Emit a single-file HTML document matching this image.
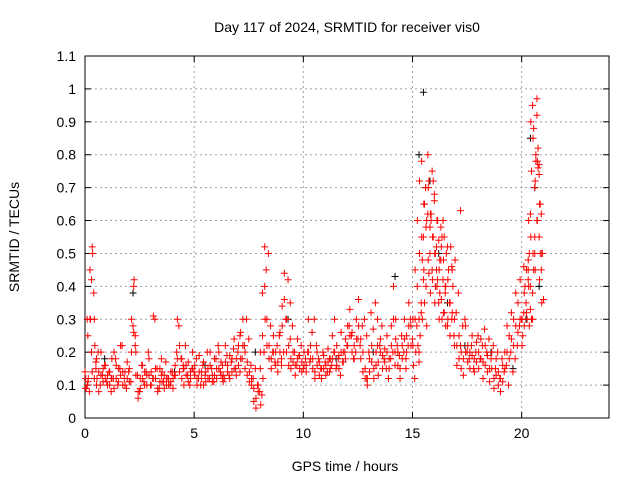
<!DOCTYPE html>
<html><head><meta charset="utf-8"><style>
html,body{margin:0;padding:0;background:#fff;}
svg{display:block;font-family:"Liberation Sans",sans-serif;}
</style></head><body>
<svg id="chart" width="640" height="480" viewBox="0 0 640 480">
<rect width="640" height="480" fill="#fff"/>
<text x="347" y="32" font-size="14" text-anchor="middle">Day 117 of 2024, SRMTID for receiver vis0</text>
<text x="19" y="237" font-size="14" text-anchor="middle" transform="rotate(-90 19 237)">SRMTID / TECUs</text>
<text x="345" y="471" font-size="14" text-anchor="middle">GPS time / hours</text>
<g id="grid"></g><g id="axes"></g><g id="marks"></g>
</svg>
<script>
const xTicks=[0,5,10,15,20];
const yTicks=[0,0.1,0.2,0.3,0.4,0.5,0.6,0.7,0.8,0.9,1,1.1];
const yTickLabels=["0","0.1","0.2","0.3","0.4","0.5","0.6","0.7","0.8","0.9","1","1.1"];
const redHours=[0.0,0.05,0.1,0.15,0.2,0.25,0.3,0.35,0.4,0.45,0.5,0.55,0.6,0.7,0.8,0.9,1.0,1.1,1.2,1.3,1.4,1.5,1.6,1.7,1.8,1.9,2.0,2.1,2.2,2.25,2.3,2.4,2.5,2.6,2.7,2.8,2.9,3.0,3.1,3.2,3.3,3.4,3.5,3.6,3.7,3.8,3.9,4.0,4.1,4.2,4.3,4.4,4.5,4.6,4.7,4.8,4.9,5.0,5.1,5.2,5.3,5.4,5.5,5.6,5.7,5.8,5.9,6.0,6.1,6.2,6.3,6.4,6.5,6.6,6.7,6.8,6.9,7.0,7.1,7.2,7.3,7.4,7.5,7.6,7.7,7.8,7.9,8.0,8.05,8.1,8.15,8.2,8.25,8.3,8.4,8.5,8.6,8.7,8.8,8.9,9.0,9.1,9.2,9.3,9.4,9.5,9.6,9.7,9.8,9.9,10.0,10.1,10.2,10.3,10.4,10.5,10.6,10.7,10.8,10.9,11.0,11.1,11.2,11.3,11.4,11.5,11.6,11.7,11.8,11.9,12.0,12.1,12.2,12.3,12.4,12.5,12.6,12.7,12.8,12.9,13.0,13.1,13.2,13.3,13.4,13.5,13.6,13.7,13.8,13.9,14.0,14.1,14.2,14.3,14.4,14.5,14.6,14.7,14.8,14.9,15.0,15.05,15.1,15.15,15.2,15.25,15.3,15.35,15.4,15.45,15.5,15.55,15.6,15.65,15.7,15.75,15.8,15.85,15.9,15.95,16.0,16.05,16.1,16.15,16.2,16.25,16.3,16.35,16.4,16.45,16.5,16.55,16.6,16.65,16.7,16.75,16.8,16.85,16.9,16.95,17.0,17.1,17.2,17.3,17.4,17.5,17.6,17.7,17.8,17.9,18.0,18.1,18.2,18.3,18.4,18.5,18.6,18.7,18.8,18.9,19.0,19.1,19.2,19.3,19.4,19.5,19.6,19.7,19.8,19.9,20.0,20.05,20.1,20.15,20.2,20.25,20.3,20.35,20.4,20.45,20.5,20.55,20.6,20.65,20.7,20.75,20.8,20.85,20.9,20.95,21.0,
0.1,0.3,0.5,1.2,2.3,3.5,4.5,6.3,7.1,8.2,9.0,9.4,11.2,12.9,13.4,14.2,14.7,15.3,15.3,15.4,15.5,15.6,15.7,15.8,15.9,16.0,16.1,16.2,16.3,16.4,16.5,16.6,16.7,16.8,15.45,15.55,15.65,15.75,15.85,15.95,16.05,16.15,16.25,16.35,16.45,20.3,20.35,20.4,20.45,20.5,20.55,20.6,20.65,20.7,20.75,20.8,20.85,20.9,20.3,20.4,20.5,20.6,20.7,20.8,17.2,20.1];
const redValues=[0.14,0.09,0.1,0.12,0.08,0.3,0.42,0.5,0.38,0.22,0.15,0.12,0.2,0.1,0.13,0.16,0.11,0.14,0.08,0.12,0.18,0.1,0.15,0.22,0.12,0.09,0.14,0.11,0.28,0.42,0.25,0.13,0.08,0.16,0.11,0.14,0.2,0.1,0.12,0.3,0.15,0.09,0.13,0.11,0.17,0.12,0.1,0.14,0.13,0.2,0.28,0.18,0.16,0.22,0.13,0.1,0.15,0.14,0.18,0.12,0.1,0.16,0.13,0.2,0.12,0.15,0.11,0.18,0.22,0.14,0.16,0.12,0.19,0.13,0.17,0.21,0.15,0.2,0.25,0.18,0.22,0.3,0.24,0.16,0.12,0.15,0.1,0.08,0.04,0.07,0.12,0.2,0.3,0.45,0.5,0.28,0.2,0.17,0.22,0.25,0.18,0.2,0.3,0.42,0.35,0.28,0.2,0.16,0.19,0.22,0.15,0.18,0.2,0.17,0.26,0.3,0.22,0.18,0.15,0.2,0.17,0.14,0.18,0.16,0.2,0.15,0.18,0.13,0.17,0.2,0.22,0.28,0.25,0.18,0.2,0.24,0.22,0.28,0.3,0.25,0.2,0.32,0.27,0.35,0.3,0.22,0.28,0.18,0.15,0.12,0.18,0.2,0.16,0.22,0.19,0.25,0.2,0.18,0.22,0.3,0.24,0.16,0.12,0.2,0.28,0.22,0.3,0.25,0.35,0.48,0.55,0.65,0.7,0.6,0.8,0.72,0.5,0.62,0.45,0.55,0.68,0.4,0.52,0.6,0.35,0.48,0.58,0.3,0.42,0.55,0.38,0.5,0.28,0.45,0.35,0.52,0.3,0.4,0.25,0.48,0.32,0.38,0.22,0.28,0.3,0.2,0.18,0.22,0.15,0.2,0.25,0.18,0.22,0.27,0.2,0.24,0.18,0.22,0.15,0.2,0.12,0.18,0.14,0.16,0.1,0.2,0.14,0.18,0.22,0.28,0.3,0.25,0.32,0.4,0.35,0.3,0.42,0.5,0.62,0.75,0.95,0.88,0.7,0.78,0.6,0.76,0.55,0.65,0.45,0.5,0.36,0.3,0.2,0.17,
0.12,0.22,0.18,0.15,0.12,0.14,0.2,0.16,0.24,0.14,0.12,0.22,0.2,0.15,0.2,0.17,0.32,0.42,0.7,0.62,0.58,0.75,0.66,0.45,0.54,0.48,0.6,0.4,0.52,0.35,0.46,0.3,0.35,0.28,0.44,0.6,0.72,0.5,0.42,0.38,0.55,0.32,0.45,0.28,0.33,0.3,0.38,0.45,0.55,0.8,0.92,0.82,0.74,0.5,0.62,0.48,0.4,0.3,0.5,0.97,0.77,0.63,0.46,0.3,0.88,0.26];
const denseHours=[0.03,0.13,0.23,0.33,0.43,0.53,0.63,0.73,0.83,0.93,1.03,1.13,1.23,1.33,1.43,1.53,1.63,1.73,1.83,1.93,2.03,2.13,2.23,2.33,2.43,2.53,2.63,2.73,2.83,2.93,3.03,3.13,3.23,3.33,3.43,3.53,3.63,3.73,3.83,3.93,4.03,4.13,4.23,4.33,4.43,4.53,4.63,4.73,4.83,4.93,5.03,5.13,5.23,5.33,5.43,5.53,5.63,5.73,5.83,5.93,6.03,6.13,6.23,6.33,6.43,6.53,6.63,6.73,6.83,6.93,7.03,7.13,7.23,7.33,7.43,7.53,7.63,7.73,7.83,7.93,8.03,8.13,8.23,8.33,8.43,8.53,8.63,8.73,8.83,8.93,9.03,9.13,9.23,9.33,9.43,9.53,9.63,9.73,9.83,9.93,10.03,10.13,10.23,10.33,10.43,10.53,10.63,10.73,10.83,10.93,11.03,11.13,11.23,11.33,11.43,11.53,11.63,11.73,11.83,11.93,12.03,12.13,12.23,12.33,12.43,12.53,12.63,12.73,12.83,12.93,13.03,13.13,13.23,13.33,13.43,13.53,13.63,13.73,13.83,13.93,14.03,14.13,14.23,14.33,14.43,14.53,14.63,14.73,14.83,14.93,17.03,17.13,17.23,17.33,17.43,17.53,17.63,17.73,17.83,17.93,18.03,18.13,18.23,18.33,18.43,18.53,18.63,18.73,18.83,18.93,19.03,19.13,19.23,19.33,19.43,19.53,19.63,19.73,19.83,19.93];
const denseValuesA=[0.12,0.25,0.45,0.52,0.3,0.18,0.14,0.2,0.11,0.16,0.13,0.1,0.18,0.2,0.12,0.15,0.22,0.14,0.1,0.17,0.15,0.3,0.4,0.2,0.08,0.12,0.16,0.1,0.13,0.18,0.14,0.31,0.12,0.09,0.15,0.11,0.13,0.1,0.12,0.14,0.12,0.16,0.3,0.22,0.18,0.15,0.13,0.17,0.14,0.2,0.16,0.12,0.19,0.14,0.17,0.11,0.15,0.2,0.13,0.18,0.15,0.2,0.17,0.13,0.22,0.16,0.19,0.14,0.24,0.18,0.22,0.26,0.3,0.2,0.17,0.14,0.12,0.09,0.06,0.1,0.2,0.38,0.52,0.3,0.22,0.18,0.25,0.2,0.17,0.26,0.34,0.44,0.3,0.22,0.18,0.2,0.16,0.24,0.19,0.17,0.2,0.16,0.3,0.22,0.18,0.14,0.2,0.17,0.15,0.19,0.16,0.21,0.18,0.25,0.3,0.22,0.19,0.26,0.2,0.24,0.28,0.33,0.26,0.22,0.3,0.36,0.24,0.2,0.15,0.12,0.18,0.22,0.15,0.2,0.17,0.24,0.19,0.21,0.25,0.18,0.28,0.4,0.3,0.2,0.15,0.22,0.3,0.25,0.35,0.28,0.22,0.25,0.2,0.18,0.28,0.22,0.2,0.25,0.18,0.23,0.2,0.24,0.17,0.22,0.19,0.15,0.2,0.12,0.18,0.14,0.12,0.16,0.2,0.28,0.25,0.32,0.3,0.38,0.35,0.42];
const denseValuesB=[0.09,0.11,0.3,0.14,0.12,0.1,0.08,0.13,0.15,0.12,0.1,0.14,0.12,0.09,0.16,0.11,0.13,0.1,0.14,0.12,0.11,0.2,0.26,0.13,0.06,0.09,0.12,0.14,0.1,0.13,0.1,0.12,0.15,0.08,0.11,0.14,0.09,0.12,0.1,0.11,0.09,0.13,0.18,0.14,0.12,0.1,0.16,0.11,0.12,0.15,0.13,0.1,0.14,0.12,0.1,0.14,0.12,0.16,0.11,0.13,0.12,0.15,0.13,0.11,0.17,0.14,0.12,0.18,0.15,0.13,0.16,0.18,0.22,0.15,0.13,0.11,0.1,0.05,0.03,0.08,0.15,0.25,0.4,0.22,0.18,0.15,0.2,0.16,0.14,0.2,0.28,0.36,0.2,0.16,0.15,0.17,0.13,0.18,0.15,0.14,0.16,0.14,0.2,0.18,0.15,0.12,0.16,0.13,0.12,0.15,0.13,0.17,0.15,0.18,0.2,0.16,0.15,0.2,0.17,0.18,0.22,0.25,0.2,0.18,0.24,0.28,0.18,0.14,0.12,0.1,0.14,0.17,0.12,0.16,0.13,0.2,0.15,0.17,0.2,0.15,0.22,0.3,0.24,0.16,0.12,0.18,0.24,0.2,0.28,0.22,0.16,0.18,0.15,0.13,0.2,0.17,0.15,0.19,0.14,0.17,0.15,0.18,0.12,0.16,0.14,0.11,0.15,0.09,0.13,0.1,0.08,0.11,0.15,0.2,0.18,0.24,0.22,0.28,0.26,0.3];
const stormHours=[15.02,15.12,15.22,15.32,15.42,15.52,15.62,15.72,15.82,15.92,16.02,16.12,16.22,16.32,16.42,16.52,16.62,16.72,16.82,16.92,20.02,20.12,20.22,20.32,20.42,20.52,20.62,20.72,20.82,20.92];
const stormValuesA=[0.3,0.45,0.6,0.72,0.78,0.65,0.58,0.7,0.62,0.55,0.5,0.6,0.45,0.52,0.48,0.4,0.42,0.35,0.45,0.3,0.3,0.38,0.45,0.6,0.9,0.85,0.72,0.78,0.65,0.5];
const stormValuesB=[0.22,0.3,0.4,0.5,0.55,0.45,0.4,0.48,0.38,0.42,0.35,0.4,0.3,0.36,0.32,0.28,0.3,0.25,0.32,0.22,0.22,0.28,0.32,0.4,0.55,0.5,0.45,0.6,0.42,0.35];
const blackHours=[0.3,0.9,2.2,4.1,5.5,7.8,9.3,11.5,13.2,14.2,15.3,15.5,15.8,16.2,16.6,17.4,18.6,19.6,20.2,20.4,20.6,20.8];
const blackValues=[0.2,0.18,0.38,0.14,0.16,0.2,0.3,0.18,0.2,0.43,0.8,0.99,0.72,0.5,0.35,0.22,0.2,0.15,0.3,0.85,0.7,0.4];

const NS="http://www.w3.org/2000/svg";
const L=85,R=609,T=56,B=418;
function xs(h){return L+(h-0)/24*(R-L);}
function ys(v){return B-(v-0)/1.1*(B-T);}
function mk(tag,attrs,parent){const e=document.createElementNS(NS,tag);for(const k in attrs)e.setAttribute(k,attrs[k]);parent.appendChild(e);return e;}
const grid=document.getElementById('grid'),axes=document.getElementById('axes'),marks=document.getElementById('marks');
yTicks.forEach((v,i)=>{
  const y=ys(v);
  if(i>0&&i<yTicks.length-1){const g=mk('line',{x1:L,x2:R,y1:y,y2:y,stroke:'#a0a0a0','stroke-dasharray':'2,3','stroke-width':1},grid);
  
  }
  const t1=mk('line',{x1:L,x2:L+6,y1:y,y2:y,stroke:'#000'},axes);
  
  
  const t2=mk('line',{x1:R,x2:R-6,y1:y,y2:y,stroke:'#000'},axes);
  
  
  const lb=mk('text',{x:L-9,y:y+5,'font-size':14,'text-anchor':'end'},axes);lb.textContent=yTickLabels[i];
  
  
});
xTicks.forEach(h=>{
  const x=xs(h);
  if(h>0){const g=mk('line',{x1:x,x2:x,y1:T,y2:B,stroke:'#a0a0a0','stroke-dasharray':'2,3','stroke-width':1},grid);
  
  }
  const t1=mk('line',{x1:x,x2:x,y1:B,y2:B-6,stroke:'#000'},axes);
  
  
  const t2=mk('line',{x1:x,x2:x,y1:T,y2:T+6,stroke:'#000'},axes);
  
  
  const lb=mk('text',{x:x,y:B+20,'font-size':14,'text-anchor':'middle'},axes);lb.textContent=String(h);
  
  
});
const frame=mk('rect',{x:L,y:T,width:R-L,height:B-T,fill:'none',stroke:'#000'},axes);


function plus(h,v,color,name){
  if(v===undefined)return;
  const x=xs(h),y=ys(v);
  const p=mk('path',{d:`M${x-3.5},${y}h7M${x},${y-3.5}v7`,stroke:color,'stroke-width':1,fill:'none'},marks);
  
  
}
blackHours.forEach((h,i)=>plus(h,blackValues[i],'#000','black-point'));
redHours.forEach((h,i)=>plus(h,redValues[i],'#f00','red-point'));
denseHours.forEach((h,i)=>plus(h,denseValuesA[i],'#f00','red-point'));
denseHours.forEach((h,i)=>plus(h,denseValuesB[i],'#f00','red-point'));
stormHours.forEach((h,i)=>plus(h,stormValuesA[i],'#f00','red-point'));
stormHours.forEach((h,i)=>plus(h,stormValuesB[i],'#f00','red-point'));
</script>
</body></html>
